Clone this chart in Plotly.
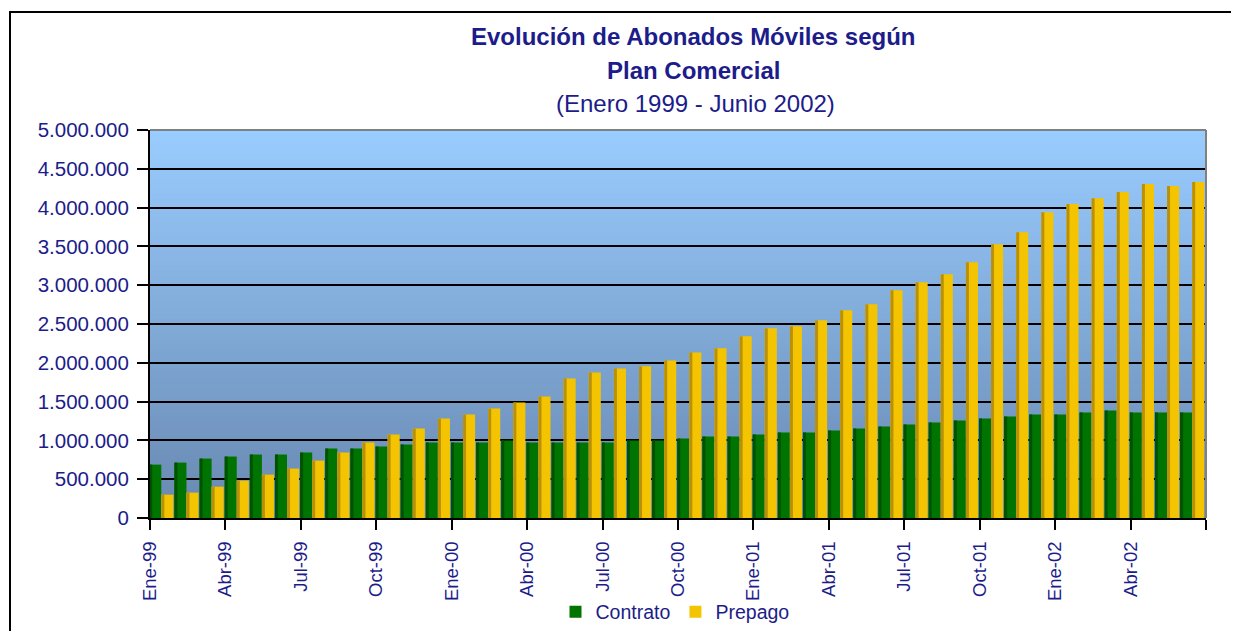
import plotly.graph_objects as go

months = ["Ene-99", "Feb-99", "Mar-99", "Abr-99", "May-99", "Jun-99", "Jul-99", "Ago-99", "Sep-99", "Oct-99", "Nov-99", "Dic-99",
          "Ene-00", "Feb-00", "Mar-00", "Abr-00", "May-00", "Jun-00", "Jul-00", "Ago-00", "Sep-00", "Oct-00", "Nov-00", "Dic-00",
          "Ene-01", "Feb-01", "Mar-01", "Abr-01", "May-01", "Jun-01", "Jul-01", "Ago-01", "Sep-01", "Oct-01", "Nov-01", "Dic-01",
          "Ene-02", "Feb-02", "Mar-02", "Abr-02", "May-02", "Jun-02"]

contrato = [688000, 714000, 766000, 792000, 818000, 818000, 843000, 895000, 895000, 921000, 947000, 972000,
            972000, 972000, 998000, 972000, 972000, 972000, 972000, 998000, 998000, 1024000, 1050000, 1050000,
            1076000, 1102000, 1102000, 1127000, 1153000, 1179000, 1205000, 1231000, 1256000, 1282000, 1308000, 1334000,
            1334000, 1360000, 1386000, 1360000, 1360000, 1360000]

prepago = [301000, 327000, 404000, 482000, 559000, 637000, 740000, 843000, 972000, 1076000, 1153000, 1282000,
           1334000, 1411000, 1489000, 1566000, 1799000, 1876000, 1928000, 1954000, 2031000, 2134000, 2186000, 2341000,
           2444000, 2470000, 2547000, 2676000, 2754000, 2935000, 3038000, 3141000, 3296000, 3528000, 3683000, 3941000,
           4045000, 4122000, 4200000, 4303000, 4277000, 4329000]

tick_step = 3
tick_labels = [months[i] for i in range(0, len(months), tick_step)] + [""]

NAVY = "#1c1c8a"
FONT = "Liberation Sans, Arial, sans-serif"

xpos = list(range(len(months)))
tickvals = list(range(0, len(months) + 1, tick_step))

fig = go.Figure()

# main bars
fig.add_trace(go.Bar(x=xpos, y=contrato, name="Contrato", offset=-0.03, width=0.48,
                     marker=dict(color="#007400", line=dict(width=0)), customdata=months,
                     hovertemplate="%{customdata}: %{y}<extra>Contrato</extra>"))
fig.add_trace(go.Bar(x=xpos, y=prepago, name="Prepago", offset=0.45, width=0.48,
                     marker=dict(color="#F5C400", line=dict(width=0)), customdata=months,
                     hovertemplate="%{customdata}: %{y}<extra>Prepago</extra>"))
# shading stripes (3D look)
fig.add_trace(go.Bar(x=xpos, y=contrato, offset=-0.03, width=0.12, showlegend=False, hoverinfo="skip",
                     marker=dict(color="#005200", line=dict(width=0))))
fig.add_trace(go.Bar(x=xpos, y=prepago, offset=0.45, width=0.12, showlegend=False, hoverinfo="skip",
                     marker=dict(color="#B8900A", line=dict(width=0))))

# page body has an 8px margin; compensate so the plot area lands at 150..1206 x 130..518
OFF = 8
W, H = 1239 - OFF, 631 - OFF
L, T = 150 - OFF, 130 - OFF
pw, ph = 1056, 388
R = W - L - pw
B = H - T - ph


def px(X):
    return (X - 150) / pw


def py(Y):
    return (518 - Y) / ph


# gradient background bands
shapes = []
N = 80
top = (153, 204, 255)
bot = (104, 136, 176)
for k in range(N):
    t = k / (N - 1)
    c = tuple(round(bot[j] + (top[j] - bot[j]) * t) for j in range(3))
    shapes.append(dict(type="rect", xref="x domain", yref="y domain", x0=0, x1=1,
                       y0=k / N, y1=(k + 1) / N + 0.002, fillcolor="rgb(%d,%d,%d)" % c,
                       line=dict(width=0), layer="below"))
# gray top/right plot border
shapes.append(dict(type="line", xref="paper", yref="paper", x0=0, x1=1, y0=1, y1=1,
                   line=dict(color="#808080", width=2), layer="above"))
shapes.append(dict(type="line", xref="paper", yref="paper", x0=1, x1=1, y0=0, y1=1,
                   line=dict(color="#808080", width=2), layer="above"))
# outer chart border
shapes.append(dict(type="rect", xref="paper", yref="paper", x0=px(10), x1=px(1233), y0=py(645), y1=py(12),
                   line=dict(color="black", width=2), fillcolor="rgba(0,0,0,0)", layer="above"))

annotations = [
    dict(text="<b>Evolución de Abonados Móviles según</b>", x=px(693), y=py(37), xref="paper", yref="paper",
         showarrow=False, font=dict(size=24, color=NAVY, family=FONT), xanchor="center", yanchor="middle"),
    dict(text="<b>Plan Comercial</b>", x=px(693), y=py(70), xref="paper", yref="paper",
         showarrow=False, font=dict(size=24, color=NAVY, family=FONT), xanchor="center", yanchor="middle"),
    dict(text="(Enero 1999 - Junio 2002)", x=px(695), y=py(103), xref="paper", yref="paper",
         showarrow=False, font=dict(size=24, color=NAVY, family=FONT), xanchor="center", yanchor="middle"),
]

fig.update_layout(
    width=W, height=H, autosize=False,
    margin=dict(l=L, r=R, t=T, b=B, pad=0, autoexpand=False),
    paper_bgcolor="white", plot_bgcolor="rgba(0,0,0,0)",
    barmode="overlay",
    separators=",.",
    font=dict(family=FONT, color=NAVY, size=19),
    shapes=shapes, annotations=annotations,
    showlegend=True,
    legend=dict(orientation="h", x=0.5 - 3 / pw, xanchor="center", y=py(612), yanchor="middle",
                font=dict(size=19.5, color=NAVY, family=FONT), bgcolor="rgba(0,0,0,0)",
                itemwidth=30, tracegroupgap=0),
    xaxis=dict(range=[0, len(months)], tickmode="array", tickvals=tickvals, ticktext=tick_labels,
               tickangle=-90, ticks="outside", ticklen=10, tickwidth=2, tickcolor="black",
               ticklabelstandoff=4, automargin=False,
               showline=True, linecolor="black", linewidth=2, showgrid=False, zeroline=False,
               tickfont=dict(size=18.5, color=NAVY, family=FONT)),
    yaxis=dict(range=[0, 5000000], dtick=500000, tick0=0, tickformat=",d", ticks="outside", ticklen=11,
               tickwidth=2, tickcolor="black", ticklabelstandoff=4, automargin=False,
               showline=True, linecolor="black", linewidth=2,
               showgrid=True, gridcolor="black", gridwidth=1.5, zeroline=False,
               tickfont=dict(size=20.5, color=NAVY, family=FONT)),
)

fig.write_html("out.html")
